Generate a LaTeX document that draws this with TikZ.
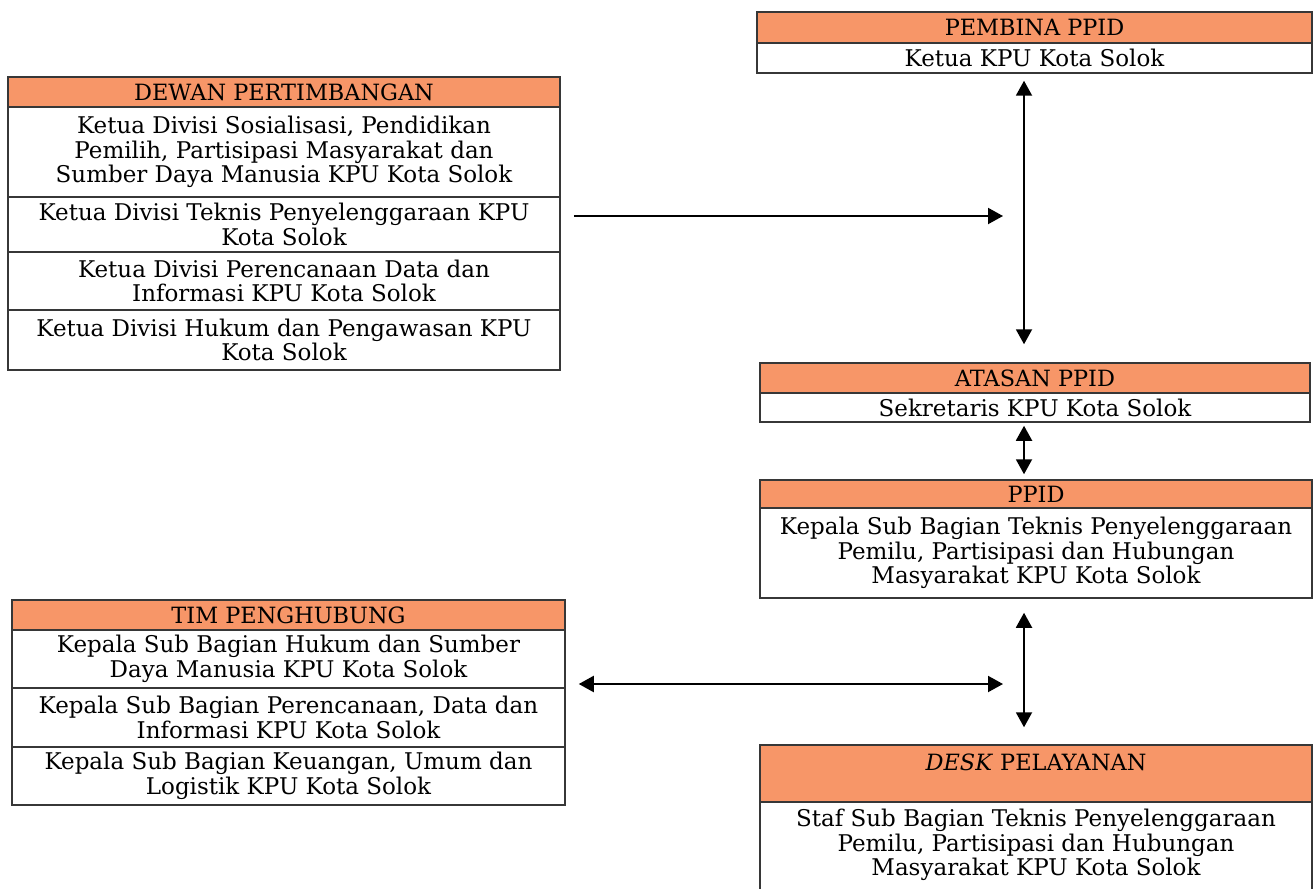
\documentclass[tikz,border=0pt]{standalone}
\usepackage{fontspec}
\setmainfont{DejaVu Serif}
\usetikzlibrary{fit,arrows.meta}
\definecolor{hdr}{RGB}{247,150,104}
\definecolor{ln}{RGB}{55,55,55}
\begin{document}
\begin{tikzpicture}[x=0.5pt,y=-0.5pt,
  cell/.style={draw=ln, line width=0.75pt, inner sep=0pt, fill=white},
  head/.style={cell, fill=hdr},
  txt/.style={inner sep=0pt, align=center, font=\fontsize{11.5}{12.2}\selectfont},
  htxt/.style={txt, font=\fontsize{11.2}{12}\selectfont},
  conn/.style={line width=1pt, -{Triangle[length=7.5pt,width=8pt]}},
  bconn/.style={line width=1pt, {Triangle[length=7.5pt,width=8pt]}-{Triangle[length=7.5pt,width=8pt]}}]
\useasboundingbox (0,0) rectangle (1315,888);
% PEMBINA
\node[head, fit={(757,12)(1312,43)}] (pembinaH) {};
\node[cell, fit={(757,43)(1312,73)}] (pembinaB) {};
\node[htxt] at (pembinaH.center) {PEMBINA PPID};
\node[txt] at (pembinaB.center) {Ketua KPU Kota Solok};
% DEWAN
\node[head, fit={(8,77)(560,107)}] (dewanH) {};
\node[cell, fit={(8,107)(560,197)}] (dewan1) {};
\node[cell, fit={(8,197)(560,252)}] (dewan2) {};
\node[cell, fit={(8,252)(560,310)}] (dewan3) {};
\node[cell, fit={(8,310)(560,370)}] (dewan4) {};
\node[htxt] at (dewanH.center) {DEWAN PERTIMBANGAN};
\node[txt] at (dewan1.center) {Ketua Divisi Sosialisasi, Pendidikan\\Pemilih, Partisipasi Masyarakat dan\\Sumber Daya Manusia KPU Kota Solok};
\node[txt] at (dewan2.center) {Ketua Divisi Teknis Penyelenggaraan KPU\\Kota Solok};
\node[txt] at (dewan3.center) {Ketua Divisi Perencanaan Data dan\\Informasi KPU Kota Solok};
\node[txt] at (dewan4.center) {Ketua Divisi Hukum dan Pengawasan KPU\\Kota Solok};
% ATASAN
\node[head, fit={(760,363)(1310,393)}] (atasanH) {};
\node[cell, fit={(760,393)(1310,422)}] (atasanB) {};
\node[htxt] at (atasanH.center) {ATASAN PPID};
\node[txt] at (atasanB.center) {Sekretaris KPU Kota Solok};
% PPID
\node[head, fit={(760,480)(1312,508)}] (ppidH) {};
\node[cell, fit={(760,508)(1312,598)}] (ppidB) {};
\node[htxt] at (ppidH.center) {PPID};
\node[txt] at (ppidB.center) {Kepala Sub Bagian Teknis Penyelenggaraan\\Pemilu, Partisipasi dan Hubungan\\Masyarakat KPU Kota Solok};
% TIM
\node[head, fit={(12,600)(565,630)}] (timH) {};
\node[cell, fit={(12,630)(565,688)}] (tim1) {};
\node[cell, fit={(12,688)(565,747)}] (tim2) {};
\node[cell, fit={(12,747)(565,805)}] (tim3) {};
\node[htxt] at (timH.center) {TIM PENGHUBUNG};
\node[txt] at (tim1.center) {Kepala Sub Bagian Hukum dan Sumber\\Daya Manusia KPU Kota Solok};
\node[txt] at (tim2.center) {Kepala Sub Bagian Perencanaan, Data dan\\Informasi KPU Kota Solok};
\node[txt] at (tim3.center) {Kepala Sub Bagian Keuangan, Umum dan\\Logistik KPU Kota Solok};
% DESK
\node[head, fit={(760,745)(1312,802)}] (deskH) {};
\node[cell, fit={(760,802)(1312,910)}] (deskB) {};
\node[htxt] (deskT) at (1036,762) {\textit{DESK} PELAYANAN};
\node[txt] (deskBT) at (1036,845) {Staf Sub Bagian Teknis Penyelenggaraan\\Pemilu, Partisipasi dan Hubungan\\Masyarakat KPU Kota Solok};
% connectors
\coordinate (axis) at (1024,0);
\coordinate (h1) at (0,216);
\coordinate (h2) at (0,684);
\draw[bconn] ([yshift=-3.5pt]pembinaB.south -| axis) -- ([yshift=9pt]atasanH.north -| axis);
\draw[bconn] ([yshift=-1.5pt]atasanB.south -| axis) -- ([yshift=2.5pt]ppidH.north -| axis);
\draw[bconn] ([yshift=-7pt]ppidB.south -| axis) -- ([yshift=8.5pt]deskH.north -| axis);
\draw[conn] ([xshift=6.5pt]dewan2.east |- h1) -- ([xshift=-10.5pt]axis |- h1);
\draw[bconn] ([xshift=6.5pt]tim1.east |- h2) -- ([xshift=-10.5pt]axis |- h2);
\end{tikzpicture}
\end{document}
